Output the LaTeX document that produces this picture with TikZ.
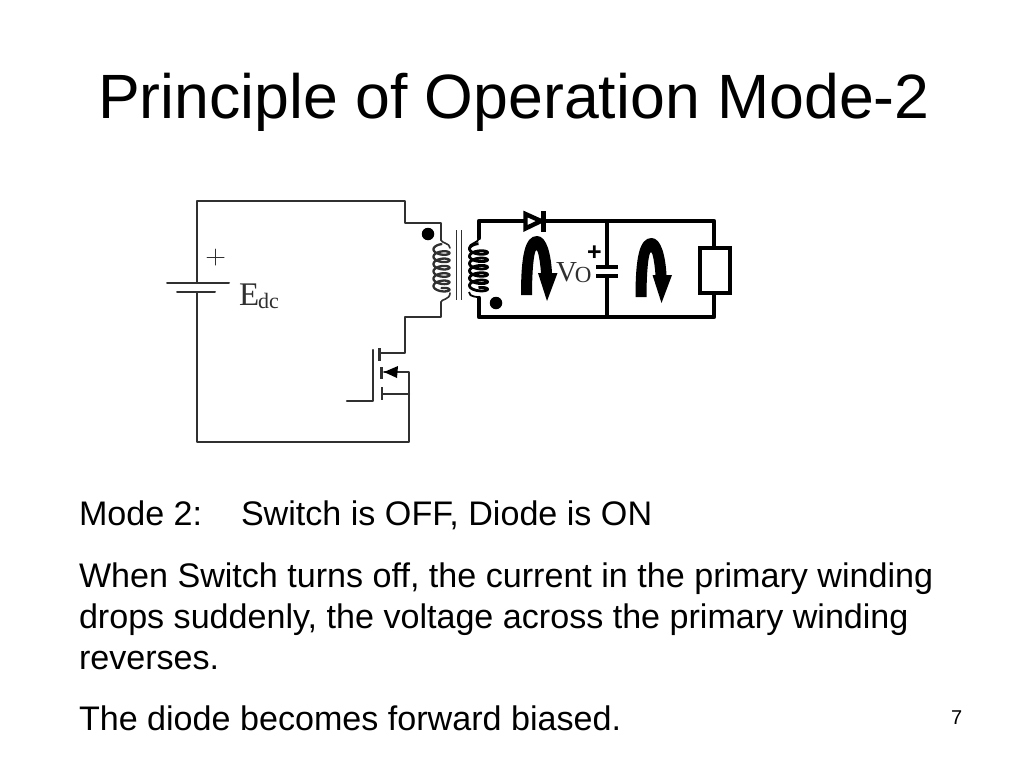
\documentclass[tikz,border=0pt]{standalone}
\usepackage{fontspec}
\setmainfont{Liberation Sans}
\newfontfamily\serifcirc{Liberation Serif}
\definecolor{thinwire}{HTML}{303030}
\tikzset{
  txt/.style={anchor=base west,inner sep=0pt,outer sep=0pt,text=black},
  body/.style={txt,font=\fontsize{34.1}{34.1}\selectfont},
  thinw/.style={draw=thinwire,line width=2pt,line cap=round,line join=round},
  thickw/.style={draw=black,line width=4.4pt,line cap=round,line join=round},
  circ/.style={inner sep=0pt,outer sep=0pt,text=thinwire},
  uarrow/.style={fill=black,draw=none},
  dotmark/.style={circle,fill=black,inner sep=0pt,minimum size=12.5pt}
}
\newcommand{\uturn}{(521,295) .. controls (521,255) and (525,236) .. (537,236) .. controls (547,236) and (551,255) .. (552,273) -- (557.5,273) -- (547,301) -- (538,273) -- (541,273) .. controls (540,260) and (538,250) .. (536.5,250) .. controls (534,250) and (532,270) .. (532,295) -- cycle}
\begin{document}
\begin{tikzpicture}[x=1pt,y=-1pt]
\useasboundingbox[fill=white] (0,0) rectangle (1024,768);
% texts
\node[txt,font=\fontsize{62.6}{62.6}\selectfont] (title) at (98,118) {Principle of Operation Mode-2};
\node[body] (m2) at (79,525) {Mode 2:};
\node[body] (m2b) at (241,525) {Switch is OFF, Diode is ON};
\node[body] (l1) at (79,587) {When Switch turns off, the current in the primary winding};
\node[body] (l2) at (79,628) {drops suddenly, the voltage across the primary winding};
\node[body] (l3) at (79,669) {reverses.};
\node[body] (l4) at (79,730) {The diode becomes forward biased.};
\node[txt,font=\fontsize{20}{20}\selectfont] (pg) at (951,724) {7};
% primary coordinates
\coordinate (tl) at (197,201);
\coordinate (bl) at (197,442);
\coordinate (br) at (409,442);
\coordinate (t1) at (405,201);
\coordinate (t2) at (405,223);
\coordinate (t3) at (441,223);
\coordinate (c1) at (441,240);
\coordinate (c2) at (441,302);
\coordinate (b3) at (441,317);
\coordinate (b2) at (405,317);
\coordinate (b1) at (405,353);
\coordinate (dr) at (379,353);
\coordinate (batA) at (197,283);
\coordinate (batB) at (197,292);
\coordinate (sj) at (409,394);
\coordinate (st) at (409,372);
\coordinate (sb) at (382,394);
\coordinate (ar) at (384,372);
\coordinate (gl) at (347,401);
\coordinate (gc) at (373,401);
\coordinate (gt) at (373,350);
% primary wiring
\draw[thinw] (batA) -- (tl) -- (t1) -- (t2) -- (t3) -- (c1);
\draw[thinw] (c2) -- (b3) -- (b2) -- (b1) -- (dr);
\draw[thinw] (batB) -- (bl) -- (br) -- (st) -- (ar);
\draw[thinw] (sj) -- (sb);
\draw[thinw,line width=2.2pt] (gl) -- (gc) -- (gt);
% battery
\draw[thinw] (167,283) -- (229,283);
\draw[thinw] (177,292) -- (215,292);
\draw[thinw,line width=1pt] (207,257) -- (224,257) (215.5,249) -- (215.5,265);
% mosfet bars
\draw[thinw,line width=2.6pt,line cap=butt] (379.5,348) -- (379.5,361);
\draw[thinw,line width=2.6pt,line cap=butt] (381.5,367) -- (381.5,379);
\draw[thinw,line width=2.6pt,line cap=butt] (382,387) -- (382,400);
\fill[black] (384,372) -- (398,366) -- (397,378) -- cycle;
% transformer
\draw[thinw,line width=2.3pt,smooth] plot[domain=0:2160,samples=180,variable=\t] ({441.5-8*sin(\t)},{247.5+\t/2160*44-3.4*cos(\t)});
\draw[thinw,line width=1.6pt] (c1) .. controls (441,243) and (450,243) .. (450,248);
\draw[thinw,line width=1.6pt] (c2) .. controls (441,299) and (450,300) .. (450,293);
\draw[thinw,line width=1pt,line cap=butt] (456,230) -- (456,300) (461,230) -- (461,300);
% secondary coordinates
\coordinate (stl) at (479,221);
\coordinate (sbl) at (479,317);
\coordinate (smt) at (607,221);
\coordinate (smb) at (607,317);
\coordinate (str) at (714,221);
\coordinate (sbr) at (714,317);
\coordinate (dA) at (524,221);
\coordinate (dK) at (543,221);
\coordinate (capT) at (607,267);
\coordinate (capB) at (607,276);
\coordinate (rT) at (714,247);
\coordinate (rB) at (714,293);
\coordinate (sc1) at (479,238);
\coordinate (sc2) at (479,298);
\draw[thickw] (sc1) -- (stl) -- (dA);
\draw[thickw] (dK) -- (smt) -- (str) -- (rT);
\draw[thickw] (sc2) -- (sbl) -- (smb) -- (sbr) -- (rB);
\draw[thickw,line width=3.4pt] (smt) -- (capT);
\draw[thickw,line width=3.4pt] (capB) -- (smb);
\draw[black,line width=4.4pt,line join=miter] (525.5,214) -- (541,221) -- (525.5,228.5) -- cycle;
\draw[black,line width=5pt,line cap=butt] (543,211) -- (543,232);
\draw[black,line width=4.4pt,line cap=butt] (596,267) -- (618,267) (596,276) -- (618,276);
\draw[black,line width=4pt,line join=miter,fill=white] (699.5,247.5) rectangle (730,293);
\draw[black,line width=2.8pt,smooth] plot[domain=0:2160,samples=180,variable=\t] ({478.5-9*sin(\t)},{247+\t/2160*44-3.4*cos(\t)});
\draw[black,line width=1.8pt] (sc1) .. controls (479,243) and (469,243) .. (469,248);
\draw[black,line width=1.8pt] (sc2) .. controls (479,296) and (469,298) .. (469,292);
% dots
\node[dotmark] (dot1) at (428,234) {};
\node[dotmark] (dot2) at (496,303) {};
% current arrows
\fill[uarrow] \uturn;
\begin{scope}[xshift=114.5pt,yshift=-2pt]
\fill[uarrow] \uturn;
\end{scope}
% labels
\node[circ,anchor=base west,font=\serifcirc\fontsize{33}{33}\selectfont] (edc) at (239,305) {E\kern-1pt\raisebox{-3pt}{\fontsize{22}{22}\selectfont dc}};
\node[circ,anchor=base west,font=\serifcirc\fontsize{29}{29}\selectfont] (vo) at (556,281) {V\kern-2pt\raisebox{-1pt}{\fontsize{23}{23}\selectfont O}};
\node[inner sep=0pt,anchor=center,font=\bfseries\fontsize{25}{25}\selectfont,text=black] (plus) at (594.5,253) {+};
\end{tikzpicture}
\end{document}
